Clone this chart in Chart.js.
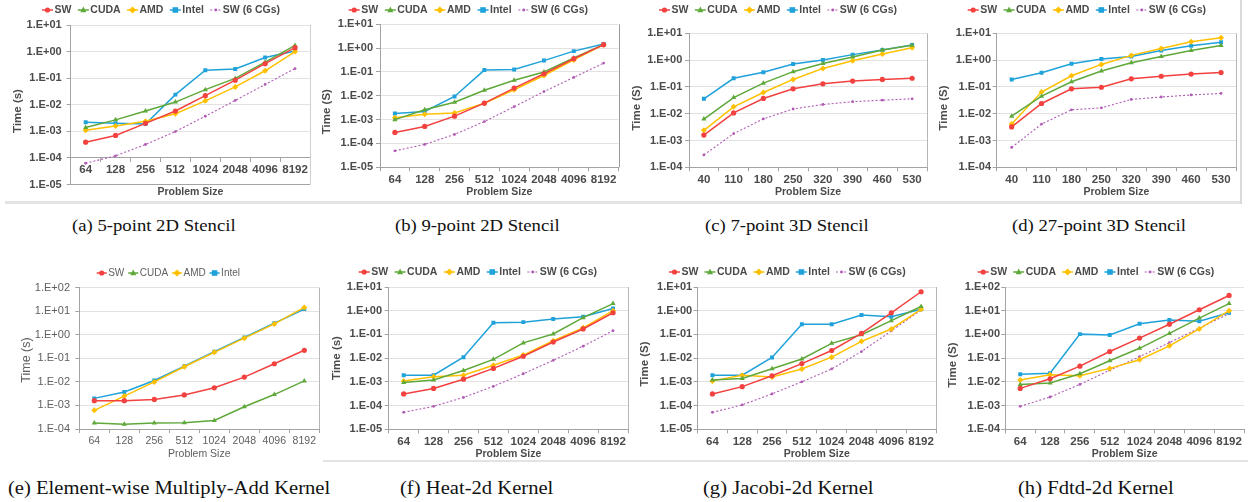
<!DOCTYPE html>
<html><head><meta charset="utf-8">
<script src="https://cdn.jsdelivr.net/npm/chart.js@4.4.1/dist/chart.umd.min.js"></script>
<style>
html,body{margin:0;padding:0;background:#fff;width:1248px;height:502px;overflow:hidden;position:relative}
canvas{position:absolute}
.cap{position:absolute;font-family:"Liberation Serif","Times New Roman",serif;font-size:17px;line-height:20px;color:#111;white-space:nowrap;transform-origin:left center;transform:scaleX(1.1)}
.cap.b{font-size:18px;transform:scaleX(1.145)}
.sep{position:absolute;background:#e3e3e3}
</style></head><body>
<div class="sep" style="left:5px;top:201px;width:1236px;height:3px"></div>
<div class="sep" style="left:1240px;top:0px;width:2px;height:204px;background:#dadada"></div>
<div class="sep" style="left:323px;top:460px;width:925px;height:2px"></div>
<div class="cap" style="left:72px;top:216px">(a) 5-point 2D Stencil</div>
<div class="cap" style="left:395px;top:216px">(b) 9-point 2D Stencil</div>
<div class="cap" style="left:705px;top:216px">(c) 7-point 3D Stencil</div>
<div class="cap" style="left:1012px;top:216px">(d) 27-point 3D Stencil</div>
<div class="cap b" style="left:8px;top:478px">(e) Element-wise Multiply-Add Kernel</div>
<div class="cap b" style="left:400px;top:478px">(f) Heat-2d Kernel</div>
<div class="cap b" style="left:703px;top:478px">(g) Jacobi-2d Kernel</div>
<div class="cap b" style="left:1018px;top:478px">(h) Fdtd-2d Kernel</div>
<script>
// ---------- DATA ----------
const sizes2D = ['64','128','256','512','1024','2048','4096','8192'];
const sizes3D = ['40','110','180','250','320','390','460','530'];
const seriesNames = ['SW','CUDA','AMD','Intel','SW (6 CGs)'];

// (a) 5-point 2D Stencil
const aSW    = [3.9e-4, 7.0e-4, 2.0e-3, 5.8e-3, 2.2e-2, 8.4e-2, 0.35, 1.4];
const aCUDA  = [1.4e-3, 2.7e-3, 5.8e-3, 1.26e-2, 3.7e-2, 9.8e-2, 0.40, 1.7];
const aAMD   = [1.1e-3, 1.6e-3, 2.4e-3, 4.6e-3, 1.4e-2, 4.7e-2, 0.19, 1.0];
const aIntel = [2.2e-3, 2.0e-3, 1.9e-3, 2.4e-2, 0.20, 0.22, 0.60, 1.05];
const aSW6   = [6.3e-5, 1.2e-4, 3.2e-4, 9.8e-4, 3.7e-3, 1.45e-2, 5.8e-2, 0.23];
// (b) 9-point 2D Stencil
const bSW    = [2.9e-4, 5.2e-4, 1.4e-3, 4.9e-3, 2.1e-2, 8.4e-2, 0.36, 1.4];
const bCUDA  = [1.0e-3, 2.6e-3, 5.4e-3, 1.7e-2, 4.5e-2, 0.10, 0.39, 1.4];
const bAMD   = [1.2e-3, 1.7e-3, 1.9e-3, 4.9e-3, 1.8e-2, 7.1e-2, 0.32, 1.4];
const bIntel = [1.8e-3, 2.2e-3, 9.4e-3, 0.12, 0.126, 0.30, 0.75, 1.5];
const bSW6   = [4.9e-5, 9.1e-5, 2.4e-4, 8.3e-4, 3.5e-3, 1.5e-2, 5.9e-2, 0.235];
// (c) 7-point 3D Stencil
const cSW    = [1.6e-3, 1.07e-2, 3.7e-2, 8.5e-2, 0.13, 0.165, 0.19, 0.21];
const cCUDA  = [6.3e-3, 4.0e-2, 0.138, 0.37, 0.75, 1.3, 2.4, 3.6];
const cAMD   = [2.4e-3, 1.8e-2, 6.2e-2, 0.19, 0.49, 0.95, 1.7, 2.9];
const cIntel = [3.6e-2, 0.21, 0.355, 0.71, 1.0, 1.6, 2.4, 3.7];
const cSW6   = [2.9e-4, 1.8e-3, 6.4e-3, 1.5e-2, 2.2e-2, 2.8e-2, 3.2e-2, 3.6e-2];
// (d) 27-point 3D Stencil
const dSW    = [3.2e-3, 2.4e-2, 8.5e-2, 9.7e-2, 0.20, 0.25, 0.30, 0.345];
const dCUDA  = [8.1e-3, 4.5e-2, 0.155, 0.39, 0.80, 1.37, 2.3, 3.5];
const dAMD   = [4.1e-3, 6.4e-2, 0.26, 0.69, 1.5, 2.7, 4.8, 6.8];
const dIntel = [0.19, 0.34, 0.73, 1.1, 1.37, 2.3, 3.4, 4.6];
const dSW6   = [5.5e-4, 4.1e-3, 1.4e-2, 1.65e-2, 3.4e-2, 4.2e-2, 5.0e-2, 5.7e-2];
// (e) Element-wise Multiply-Add Kernel
const eSW    = [1.6e-3, 1.6e-3, 1.8e-3, 2.8e-3, 5.6e-3, 1.6e-2, 5.9e-2, 0.22];
const eCUDA  = [1.8e-4, 1.6e-4, 1.8e-4, 1.85e-4, 2.3e-4, 8.8e-4, 2.9e-3, 1.1e-2];
const eAMD   = [6.2e-4, 2.5e-3, 1.0e-2, 4.4e-2, 0.18, 0.72, 2.9, 14.5];
const eIntel = [2.0e-3, 3.7e-3, 1.15e-2, 4.6e-2, 0.19, 0.77, 3.1, 12.3];
// (f) Heat-2d Kernel
const fSW    = [3.1e-4, 5.3e-4, 1.3e-3, 3.7e-3, 1.2e-2, 4.8e-2, 0.17, 0.82];
const fCUDA  = [9.5e-4, 1.2e-3, 3.0e-3, 8.9e-3, 4.4e-2, 0.104, 0.51, 2.0];
const fAMD   = [1.1e-3, 1.65e-3, 1.9e-3, 5.0e-3, 1.35e-2, 5.4e-2, 0.19, 1.0];
const fIntel = [1.9e-3, 1.9e-3, 1.1e-2, 0.31, 0.33, 0.45, 0.56, 1.25];
const fSW6   = [5.2e-5, 9.3e-5, 2.2e-4, 6.5e-4, 2.2e-3, 8.1e-3, 3.2e-2, 0.144];
// (g) Jacobi-2d Kernel
const gSW    = [3.1e-4, 6.3e-4, 1.8e-3, 5.9e-3, 2.1e-2, 0.11, 0.82, 6.3];
const gCUDA  = [1.2e-3, 1.4e-3, 3.6e-3, 9.2e-3, 4.2e-2, 9.7e-2, 0.38, 1.5];
const gAMD   = [1.1e-3, 1.9e-3, 1.6e-3, 3.5e-3, 1.1e-2, 5.1e-2, 0.17, 1.15];
const gIntel = [1.9e-3, 1.9e-3, 1.07e-2, 0.27, 0.27, 0.66, 0.56, 1.15];
const gSW6   = [5.2e-5, 1.07e-4, 3.1e-4, 1.0e-3, 3.5e-3, 1.9e-2, 0.14, 1.07];
// (h) Fdtd-2d Kernel
const hSW    = [5.3e-3, 1.35e-2, 4.6e-2, 0.19, 0.70, 2.7, 11, 44];
const hCUDA  = [7.8e-3, 8.9e-3, 2.2e-2, 7.8e-2, 0.26, 1.1, 4.9, 20];
const hAMD   = [1.2e-2, 2.0e-2, 1.8e-2, 3.7e-2, 8.6e-2, 0.33, 1.7, 10];
const hIntel = [2.1e-2, 2.3e-2, 1.03, 0.94, 2.8, 4.1, 3.6, 8.2];
const hSW6   = [9.3e-4, 2.3e-3, 7.8e-3, 3.1e-2, 0.115, 0.45, 1.85, 7.6];

// ---------- STYLES ----------
const seriesStyle = {
  'SW':          {color:'#f2413f', point:'circle',   r:2.6, w:1.5},
  'CUDA':        {color:'#5fa83a', point:'triangle', r:3.0, w:1.5},
  'AMD':         {color:'#ffc000', point:'rectRot',  r:3.0, w:1.5},
  'Intel':       {color:'#1fa2da', point:'rect',     r:2.8, w:1.5},
  'SW (6 CGs)':  {color:'#b05ab4', point:'circle',   r:1.4, w:1.1, dash:[2,2]}
};
const AXIS = '#a3a3a3', GRID = '#e2e2e2';

function fmtExp(v){
  const e = Math.round(Math.log10(v));
  return '1.E' + (e < 0 ? '-' : '+') + String(Math.abs(e)).padStart(2,'0');
}

function drawMarker(ctx, style, r, x, y){
  ctx.beginPath();
  if (style === 'circle') { ctx.arc(x, y, r, 0, Math.PI*2); }
  else if (style === 'triangle') { ctx.moveTo(x, y - r*1.15); ctx.lineTo(x + r, y + r*0.75); ctx.lineTo(x - r, y + r*0.75); ctx.closePath(); }
  else if (style === 'rectRot') { ctx.moveTo(x, y - r*1.2); ctx.lineTo(x + r*1.2, y); ctx.lineTo(x, y + r*1.2); ctx.lineTo(x - r*1.2, y); ctx.closePath(); }
  else { ctx.rect(x - r, y - r, 2*r, 2*r); }
  ctx.fill();
}

const panelDecor = {
  id: 'panelDecor',
  afterDraw(chart, args, o) {
    const ctx = chart.ctx, ca = chart.chartArea;
    ctx.save();
    if (o.frameRight) {
      ctx.strokeStyle = o.frameRight; ctx.lineWidth = 1;
      ctx.beginPath(); ctx.moveTo(Math.round(ca.right)+0.5, ca.top); ctx.lineTo(Math.round(ca.right)+0.5, ca.bottom); ctx.stroke();
    }
    // legend
    ctx.font = o.legendFont;
    const ds = chart.data.datasets;
    const tw = ds.map(d => ctx.measureText(d.label).width);
    const sumT = tw.reduce((a,b)=>a+b,0);
    const n = ds.length;
    const gap = (o.lx1 - o.lx0 - sumT - n*(o.lineLen + o.textGap)) / (n - 1);
    let x = o.lx0; const y = o.ly;
    ds.forEach((d,i) => {
      const st = seriesStyle[d.label];
      ctx.strokeStyle = st.color; ctx.fillStyle = st.color; ctx.lineWidth = st.w;
      ctx.setLineDash(st.dash || []);
      ctx.beginPath(); ctx.moveTo(x, y); ctx.lineTo(x + o.lineLen, y); ctx.stroke();
      ctx.setLineDash([]);
      drawMarker(ctx, st.point, st.r, x + o.lineLen/2, y);
      ctx.fillStyle = o.textColor; ctx.textBaseline = 'middle'; ctx.textAlign = 'left';
      ctx.fillText(d.label, x + o.lineLen + o.textGap, y + 0.5);
      x += o.lineLen + o.textGap + tw[i] + gap;
    });
    // y-axis title
    ctx.font = o.ytFont; ctx.fillStyle = o.textColor;
    ctx.translate(o.ytx, o.yty); ctx.rotate(-Math.PI/2);
    ctx.textAlign = 'center'; ctx.textBaseline = 'middle';
    ctx.fillText(o.ytText, 0, 0);
    ctx.restore();
  }
};

function makePanel(p){
  const cv = document.createElement('canvas');
  cv.width = p.cw; cv.height = p.ch;
  cv.style.left = p.cx + 'px'; cv.style.top = p.cy + 'px';
  cv.style.width = p.cw + 'px'; cv.style.height = p.ch + 'px';
  document.body.appendChild(cv);
  const bold = p.bold !== false;
  const fw = bold ? 'bold' : 'normal';
  const tc = bold ? '#4b4b4b' : '#606060';
  const fam = '"Liberation Sans", Arial, sans-serif';
  const xH = p.xH;
  const names = p.names || seriesNames;
  const datasets = p.series.map((vals, i) => {
    const st = seriesStyle[names[i]];
    return {
      label: names[i], data: vals,
      borderColor: st.color, backgroundColor: st.color,
      borderWidth: st.w, borderDash: st.dash || [],
      pointStyle: st.point, pointRadius: st.r, pointBorderWidth: 0,
      pointBackgroundColor: st.color, tension: 0
    };
  });
  const minE = p.minE, maxE = p.maxE;
  const padBottom = p.dyn ? (p.cy + p.ch - p.B) : (p.cy + p.ch - p.B - xH);
  new Chart(cv, {
    type: 'line',
    data: { labels: p.labels, datasets: datasets },
    options: {
      responsive: false, animation: false, devicePixelRatio: 1,
      layout: { padding: { left: 0, right: p.cx + p.cw - p.R, top: p.T - p.cy, bottom: padBottom } },
      plugins: {
        legend: { display: false }, tooltip: { enabled: false },
        panelDecor: {
          frameRight: p.frame, legendFont: fw + ' ' + p.legendSize + 'px ' + fam,
          lx0: p.lx0 - p.cx, lx1: p.lx1 - p.cx, ly: p.ly - p.cy,
          lineLen: p.lineLen || 11, textGap: 1.5, textColor: tc,
          ytFont: fw + ' ' + p.ytSize + 'px ' + fam, ytText: p.yTitle,
          ytx: p.ytx - p.cx, yty: p.yty - p.cy
        }
      },
      scales: {
        x: {
          type: 'category', offset: true,
          position: p.dyn ? { y: p.dyn } : 'bottom',
          grid: { display: true, drawOnChartArea: false, drawTicks: true, tickLength: 4, offset: true, color: AXIS },
          border: { display: true, color: AXIS, width: 1 },
          ticks: { autoSkip: false, maxRotation: 0, minRotation: 0, padding: p.xPad, color: tc,
                   font: { family: fam, size: p.xtSize, weight: fw } },
          title: { display: true, text: 'Problem Size', color: tc, padding: 0,
                   font: { family: fam, size: p.xTitleSize, weight: fw } },
          afterFit: s => { s.height = xH; }
        },
        y: {
          type: 'logarithmic', position: 'left',
          min: Number('1e' + minE), max: Number('1e' + maxE),
          afterBuildTicks: s => { const t = []; for (let e = minE; e <= maxE; e++) t.push({ value: Number('1e' + e) }); s.ticks = t; },
          ticks: { callback: v => fmtExp(v), color: tc, padding: p.yPad,
                   font: { family: fam, size: p.ytickSize, weight: fw } },
          grid: { color: c => (p.dyn && c.tick && c.tick.value === Number('1e' + minE)) ? AXIS : GRID,
                  drawTicks: true, tickLength: 4, tickColor: AXIS },
          border: { display: true, color: AXIS, width: 1 },
          afterFit: s => { s.width = p.L - p.cx; }
        }
      }
    },
    plugins: [panelDecor]
  });
}

const TOPH = 205, BOTY = 250, BOTH = 212;
const common = { legendSize: 10.5, ytSize: 11.5, xtSize: 11.5, xTitleSize: 10.5, ytickSize: 11, xPad: 1.5, xH: 31 };

makePanel(Object.assign({}, common, {
  cx: 0, cy: 0, cw: 314, ch: TOPH, L: 70.7, R: 310.7, T: 25, B: 184.5, minE: -5, maxE: 1,
  dyn: 1e-4, xH: 40.3, labels: sizes2D, series: [aSW, aCUDA, aAMD, aIntel, aSW6],
  lx0: 42, lx1: 280, ly: 10, yTitle: 'Time (s)', ytx: 18, yty: 111, yPad: 5, frame: '#cfcfcf'
}));
makePanel(Object.assign({}, common, {
  cx: 312, cy: 0, cw: 312, ch: TOPH, L: 380, R: 618.5, T: 24.3, B: 167.3, minE: -5, maxE: 1,
  labels: sizes2D, series: [bSW, bCUDA, bAMD, bIntel, bSW6],
  lx0: 348.7, lx1: 588, ly: 10, yTitle: 'Time (S)', ytx: 327, yty: 111.7, yPad: 3, frame: '#9a9a9a'
}));
makePanel(Object.assign({}, common, {
  cx: 624, cy: 0, cw: 312, ch: TOPH, L: 689, R: 927, T: 33.3, B: 167.3, minE: -4, maxE: 1,
  labels: sizes3D, series: [cSW, cCUDA, cAMD, cIntel, cSW6],
  lx0: 659, lx1: 897, ly: 10, yTitle: 'Time (S)', ytx: 636.7, yty: 108, yPad: 2.7, frame: '#b5b5b5'
}));
makePanel(Object.assign({}, common, {
  cx: 936, cy: 0, cw: 304, ch: TOPH, L: 996.7, R: 1236.7, T: 33.3, B: 167.3, minE: -4, maxE: 1,
  labels: sizes3D, series: [dSW, dCUDA, dAMD, dIntel, dSW6],
  lx0: 967.7, lx1: 1206, ly: 10, yTitle: 'Time (S)', ytx: 944.3, yty: 108, yPad: 1.7, frame: '#b5b5b5'
}));
makePanel(Object.assign({}, common, {
  bold: false, legendSize: 10, ytSize: 12.5, xtSize: 10.5, xTitleSize: 10.5, ytickSize: 11,
  cx: 0, cy: BOTY, cw: 324, ch: BOTH, L: 79.3, R: 319.3, T: 287.7, B: 429, minE: -4, maxE: 2,
  labels: sizes2D, series: [eSW, eCUDA, eAMD, eIntel], names: ['SW','CUDA','AMD','Intel'], lineLen: 10,
  lx0: 96.7, lx1: 240, ly: 273, yTitle: 'Time (s)', ytx: 27, yty: 360, yPad: 5.3, frame: '#b5b5b5'
}));
makePanel(Object.assign({}, common, {
  cx: 312, cy: BOTY, cw: 320, ch: BOTH, L: 388.7, R: 628.7, T: 287, B: 429.3, minE: -5, maxE: 1,
  labels: sizes2D, series: [fSW, fCUDA, fAMD, fIntel, fSW6],
  lx0: 358.7, lx1: 597, ly: 272, yTitle: 'Time (s)', ytx: 337, yty: 358, yPad: 2.7, frame: '#b5b5b5'
}));
makePanel(Object.assign({}, common, {
  cx: 624, cy: BOTY, cw: 316, ch: BOTH, L: 697.5, R: 936, T: 287, B: 429.3, minE: -5, maxE: 1,
  labels: sizes2D, series: [gSW, gCUDA, gAMD, gIntel, gSW6],
  lx0: 669, lx1: 905.7, ly: 272, yTitle: 'Time (S)', ytx: 644.7, yty: 364, yPad: 1.3, frame: '#b5b5b5'
}));
makePanel(Object.assign({}, common, {
  cx: 936, cy: BOTY, cw: 312, ch: BOTH, L: 1005.3, R: 1245.3, T: 287, B: 429.3, minE: -4, maxE: 2,
  labels: sizes2D, series: [hSW, hCUDA, hAMD, hIntel, hSW6],
  lx0: 977.7, lx1: 1214.3, ly: 272, yTitle: 'Time (S)', ytx: 952.7, yty: 365, yPad: 1.3, frame: null
}));
</script>
</body></html>
